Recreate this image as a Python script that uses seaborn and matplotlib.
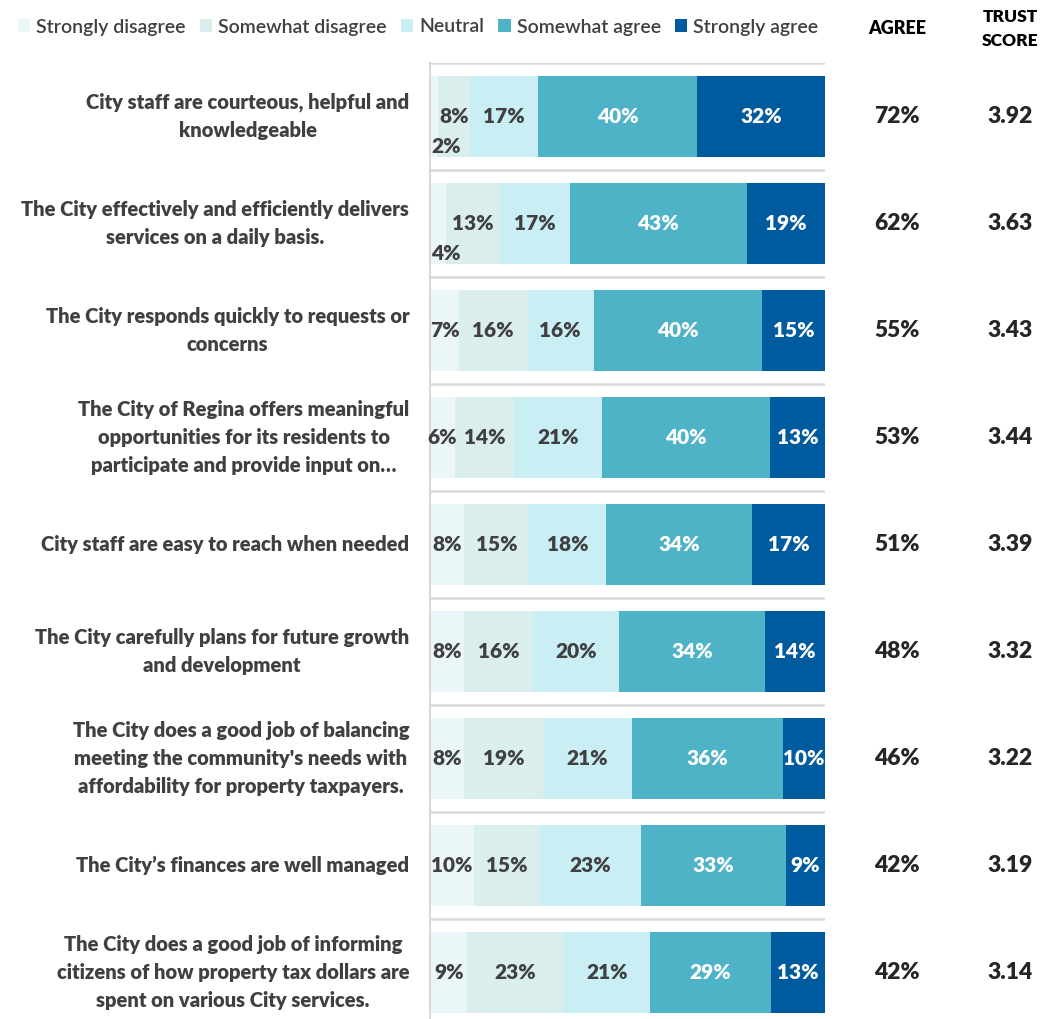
import numpy as np
import pandas as pd
import matplotlib
matplotlib.use("Agg")
import matplotlib.pyplot as plt
import matplotlib.transforms as mtrans
from matplotlib.patches import Patch
import seaborn as sns

sns.set_theme(style="white")
plt.rcParams['font.family'] = ['Lato', 'DejaVu Sans']

statements = [
    "City staff are courteous, helpful and\nknowledgeable",
    "The City effectively and efficiently delivers\nservices on a daily basis.",
    "The City responds quickly to requests or\nconcerns",
    "The City of Regina offers meaningful\nopportunities for its residents to\nparticipate and provide input on\u2026",
    "City staff are easy to reach when needed",
    "The City carefully plans for future growth\nand development",
    "The City does a good job of balancing\nmeeting the community's needs with\naffordability for property taxpayers.",
    "The City\u2019s finances are well managed",
    "The City does a good job of informing\ncitizens of how property tax dollars are\nspent on various City services.",
]
responses = ["Strongly disagree", "Somewhat disagree", "Neutral", "Somewhat agree", "Strongly agree"]
strongly_disagree = [2, 4, 7, 6, 8, 8, 8, 10, 9]
somewhat_disagree = [8, 13, 16, 14, 15, 16, 19, 15, 23]
neutral = [17, 17, 16, 21, 18, 20, 21, 23, 21]
somewhat_agree = [40, 43, 40, 40, 34, 34, 36, 33, 29]
strongly_agree = [32, 19, 15, 13, 17, 14, 10, 9, 13]
agree_pct = ["72%", "62%", "55%", "53%", "51%", "48%", "46%", "42%", "42%"]
trust_score = ["3.92", "3.63", "3.43", "3.44", "3.39", "3.32", "3.22", "3.19", "3.14"]

colors = ["#EAF6F7", "#DAEEEE", "#C9EEF4", "#4FB3C8", "#005A9E"]
label_colors = ["#404040", "#404040", "#404040", "white", "white"]

vals = np.array([strongly_disagree, somewhat_disagree, neutral, somewhat_agree, strongly_agree], dtype=float).T
norm = vals / vals.sum(axis=1, keepdims=True) * 100
cum = np.cumsum(norm, axis=1)

fig = plt.figure(figsize=(10.41, 10.19), dpi=100)
W, H = 1041, 1019
ax = fig.add_axes([430 / W, (H - 1026) / H, 395 / W, 963 / H])

df = pd.DataFrame({"statement": statements})
for k in range(4, -1, -1):
    df["cum"] = cum[:, k]
    sns.barplot(data=df, x="cum", y="statement", color=colors[k], orient="h",
                width=0.748, errorbar=None, saturation=1, ax=ax, linewidth=0)

ax.set_xlim(0, 100)
ax.set_ylim(len(statements) - 0.5, -0.5)
ax.set_xlabel("")
ax.set_ylabel("")
ax.set_xticks([])
for s in ["top", "right", "bottom"]:
    ax.spines[s].set_visible(False)
ax.spines["left"].set_color("#D9D9D9")
ax.spines["left"].set_linewidth(1.5)
for yb in np.arange(-0.5, len(statements), 1.0):
    ax.axhline(yb, color="#D9D9D9", lw=1.8, zorder=0.5)

ax.tick_params(axis="y", length=0, pad=15)
for t in ax.get_yticklabels():
    t.set_fontsize(14.5)
    t.set_fontweight("heavy")
    t.set_color("#404040")
    t.set_multialignment("center")
    t.set_linespacing(1.55)
    t.set_verticalalignment("center")

# segment labels
for i in range(len(statements)):
    for k in range(5):
        v = vals[i, k]
        c = cum[i, k] - norm[i, k] / 2
        if v < 5:
            ax.text(0.3, i + 0.28, f"{int(v)}%", ha="left", va="center", fontsize=15,
                    fontweight="heavy", color=label_colors[k])
        else:
            ax.text(c, i, f"{int(v)}%", ha="center", va="center", fontsize=15,
                    fontweight="heavy", color=label_colors[k])

tr = mtrans.blended_transform_factory(fig.transFigure, ax.transData)
for i in range(len(statements)):
    ax.text(897 / W, i, agree_pct[i], transform=tr, ha="center", va="center",
            fontsize=16.5, fontweight="heavy", color="#262626")
    ax.text(1010 / W, i, trust_score[i], transform=tr, ha="center", va="center",
            fontsize=16.5, fontweight="heavy", color="#262626")

fig.text(897 / W, 1 - 29 / H, "AGREE", ha="center", va="center", fontsize=13,
         fontweight="heavy", color="black")
fig.text(1010 / W, 1 - 29 / H, "TRUST\nSCORE", ha="center", va="center", fontsize=12.5,
         fontweight="heavy", color="black", linespacing=1.6)

handles = [Patch(facecolor=colors[k], edgecolor="none", label=responses[k]) for k in range(5)]
fig.legend(handles=handles, loc="center left", bbox_to_anchor=(10 / W, 1 - 27 / H), ncol=5,
           frameon=False, handlelength=0.65, handleheight=0.65,
           handletextpad=0.3, columnspacing=0.72, labelcolor="#404040", borderaxespad=0,
           prop={"weight": "semibold", "size": 14})

fig.savefig("out.png", dpi=100)
